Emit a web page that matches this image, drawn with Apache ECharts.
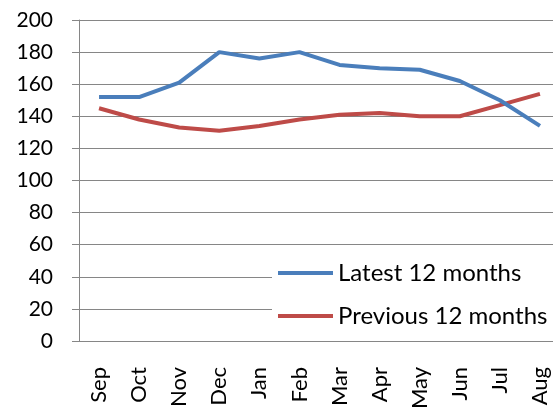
<!DOCTYPE html>
<html>
<head>
<meta charset="utf-8">
<script src="https://cdn.jsdelivr.net/npm/echarts@6/dist/echarts.min.js"></script>
<style>
  html, body { margin: 0; padding: 0; background: #fff; }
  #chart { width: 553px; height: 409px; }
</style>
</head>
<body>
<div id="chart"></div>
<script>
const months = ['Sep', 'Oct', 'Nov', 'Dec', 'Jan', 'Feb', 'Mar', 'Apr', 'May', 'Jun', 'Jul', 'Aug'];
const latest = [152, 152, 161, 180, 176, 180, 172, 170, 169, 162, 150, 134];
const previous = [145, 138, 133, 131, 134, 138, 141, 142, 140, 140, 147, 154];

const font = 'Lato';
const gridColor = '#868686';

const chart = echarts.init(document.getElementById('chart'));
chart.setOption({
  animation: false,
  textStyle: { fontFamily: font },
  grid: { left: 79, top: 20, width: 481, height: 321, containLabel: false, outerBoundsMode: 'none' },
  legend: {
    orient: 'vertical',
    left: 272,
    top: 255,
    padding: [6, 40, 6, 6],
    backgroundColor: '#fff',
    itemWidth: 55,
    itemHeight: 4,
    itemGap: 19,
    icon: 'rect',
    textStyle: { fontFamily: font, fontSize: 24, color: '#000' },
    data: ['Latest 12 months', 'Previous 12 months']
  },
  xAxis: {
    type: 'category',
    data: months,
    boundaryGap: true,
    axisLine: { lineStyle: { color: gridColor, width: 1 } },
    axisTick: { interval: 5, length: 8, lineStyle: { color: gridColor } },
    axisLabel: { interval: 0, rotate: 90, margin: 26, fontSize: 22, color: '#000', fontFamily: font }
  },
  yAxis: {
    type: 'value',
    min: 0,
    max: 200,
    interval: 20,
    axisLine: { show: true, lineStyle: { color: gridColor, width: 1 } },
    axisTick: { show: true, inside: false, length: 7, lineStyle: { color: gridColor } },
    axisLabel: { margin: 26, fontSize: 21, color: '#000', fontFamily: font },
    splitLine: { lineStyle: { color: gridColor, width: 1 } }
  },
  series: [
    {
      name: 'Latest 12 months',
      type: 'line',
      data: latest,
      symbol: 'none',
      z: 3,
      lineStyle: { color: '#4A7EBB', width: 4 },
      itemStyle: { color: '#4A7EBB' }
    },
    {
      name: 'Previous 12 months',
      type: 'line',
      data: previous,
      symbol: 'none',
      z: 2,
      lineStyle: { color: '#BE4B48', width: 4 },
      itemStyle: { color: '#BE4B48' }
    }
  ]
});
</script>
</body>
</html>
